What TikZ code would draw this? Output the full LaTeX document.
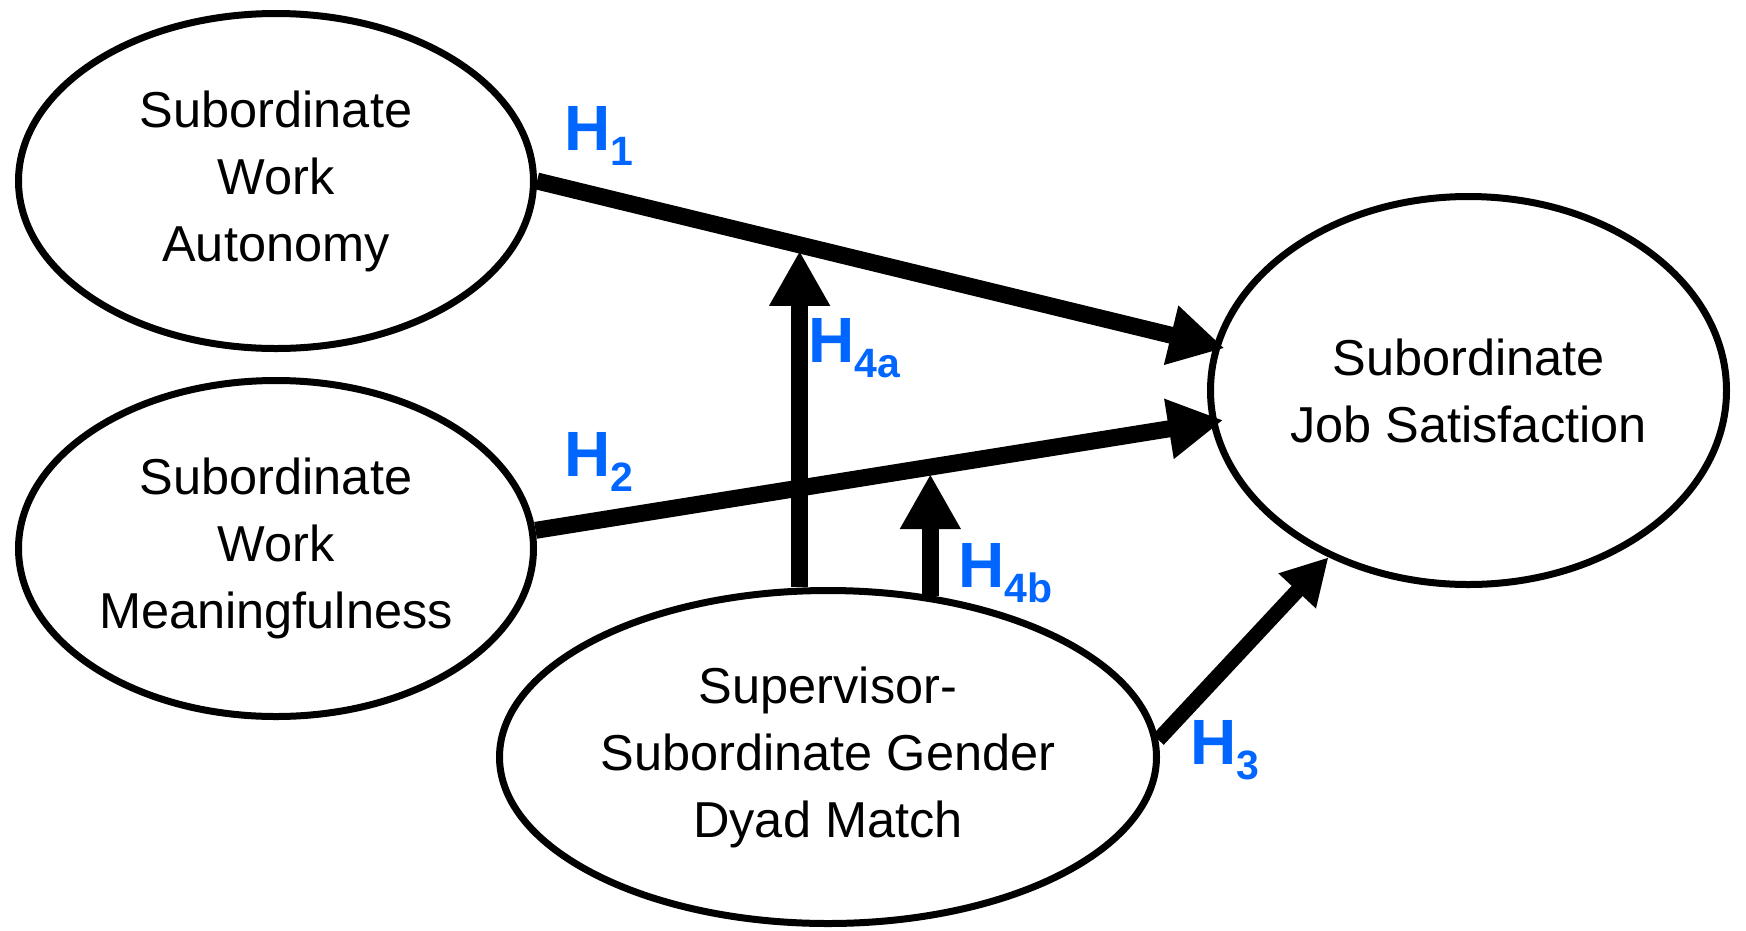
\documentclass[tikz,border=0pt]{standalone}
\usepackage{fontspec}
\setmainfont{Liberation Sans}
\usetikzlibrary{shapes.geometric,arrows.meta}
\definecolor{hblue}{RGB}{0,102,255}
\tikzset{
  construct/.style={ellipse, draw, line width=7pt, inner sep=0pt, align=center,
    font=\fontsize{50.5pt}{67pt}\selectfont},
  effect/.style={line width=17pt, -{Triangle[length=55pt,width=57pt]}},
  smalleffect/.style={line width=15pt, -{Triangle[length=46pt,width=48pt]}},
  hyp/.style={text=hblue, font=\fontsize{64pt}{64pt}\selectfont\bfseries,
    anchor=base west, inner sep=0pt}
}
\newcommand{\hsub}[1]{\raisebox{-15pt}{\fontsize{41pt}{41pt}\selectfont #1}}
\begin{document}
\begin{tikzpicture}[x=1pt,y=-1pt]
\useasboundingbox (0,0) rectangle (1746,930);

% constructs
\node[construct, minimum width=515pt, minimum height=335pt] (A) at (276,181)
  {Subordinate\\Work\\Autonomy};
\node[construct, minimum width=515pt, minimum height=336pt] (B) at (276,548.5)
  {Subordinate\\Work\\Meaningfulness};
\node[construct, minimum width=657pt, minimum height=333pt] (C) at (828,757)
  {Supervisor-\\Subordinate Gender\\Dyad Match};
\node[construct, minimum width=516pt, minimum height=388pt] (D) at (1468.5,390.5)
  {Subordinate\\Job Satisfaction};

% direct effects
\draw[effect, shorten >=-11pt] (A.east) -- (D.170) coordinate[pos=0.388] (k1);
\draw[effect, shorten >=-13pt] (B.4) -- (D.187) coordinate[pos=0.585] (k2);
\draw[smalleffect] (C.3) -- (D.230);

% moderating effects
\draw[effect, shorten >=6pt] (k1 |- C.north) -- (k1);
\draw[effect, shorten >=7pt] (k2 |- C.57) -- (k2);

% hypothesis labels
\node[hyp] (h1) at (564,150) {H\hsub{1}};
\node[hyp] (h2) at (564,476) {H\hsub{2}};
\node[hyp] (h4a) at (808,362) {H\hsub{4a}};
\node[hyp] (h4b) at (958,587) {H\hsub{4b}};
\node[hyp] (h3) at (1190,764) {H\hsub{3}};
\end{tikzpicture}
\end{document}
